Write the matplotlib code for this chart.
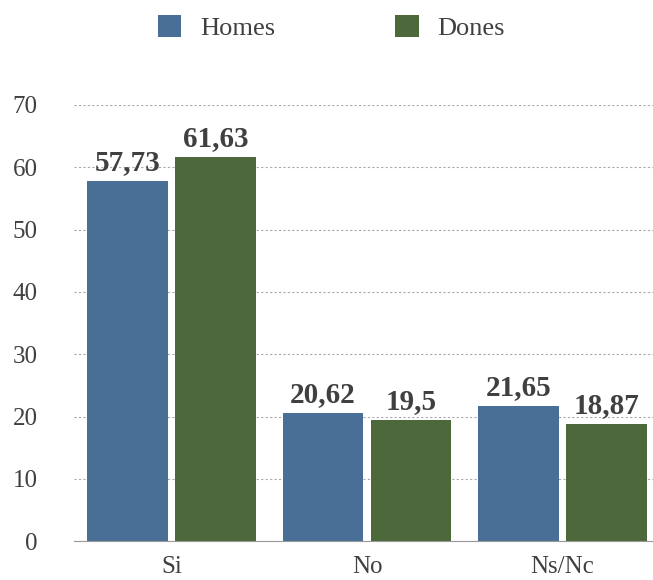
import numpy as np
import matplotlib
matplotlib.use('Agg')
from matplotlib import pyplot as plt

categories = ['Si', 'No', 'Ns/Nc']
homes = [57.73, 20.62, 21.65]
dones = [61.63, 19.5, 18.87]
labels_homes = ['57,73', '20,62', '21,65']
labels_dones = ['61,63', '19,5', '18,87']

plt.rcParams['font.family'] = ['Liberation Serif', 'DejaVu Serif']
txt = '#404040'

fig = plt.figure(figsize=(6.53, 5.8), dpi=100)
ax = fig.add_axes([0.113, 0.067, 0.898, 0.752])

x = np.arange(len(categories))
w = 0.41
b1 = ax.bar(x - 0.225, homes, w, color='#4A6F96', label='Homes', zorder=3)
b2 = ax.bar(x + 0.225, dones, w, color='#4D683B', label='Dones', zorder=3)

# value labels above bars
for bars, labs in [(b1, labels_homes), (b2, labels_dones)]:
    for bar, lab in zip(bars, labs):
        ax.text(bar.get_x() + bar.get_width() / 2, bar.get_height() + 0.8, lab,
                ha='center', va='bottom', fontsize=21, fontweight='bold', color=txt)

ax.set_xlim(-0.5, 2.5)
ax.set_ylim(0, 70)
ax.set_yticks(range(0, 71, 10))
ax.set_xticks(x)
ax.set_xticklabels(categories)
ax.tick_params(axis='both', length=0, labelsize=18, labelcolor=txt)
ax.tick_params(axis='x', pad=11)
ax.tick_params(axis='y', pad=26)
ax.yaxis.grid(True, linestyle=(0, (2, 2)), color='#aaaaaa', linewidth=0.8, zorder=0)
for s in ['top', 'right', 'left']:
    ax.spines[s].set_visible(False)
ax.spines['bottom'].set_color('#999999')
ax.spines['bottom'].set_zorder(4)

fig.legend(loc='upper center', bbox_to_anchor=(0.507, 1.015), ncol=2, frameon=False,
           fontsize=19, handlelength=0.9, handleheight=0.9, columnspacing=4.55,
           handletextpad=0.7, labelcolor=txt)

plt.savefig('out.png')
